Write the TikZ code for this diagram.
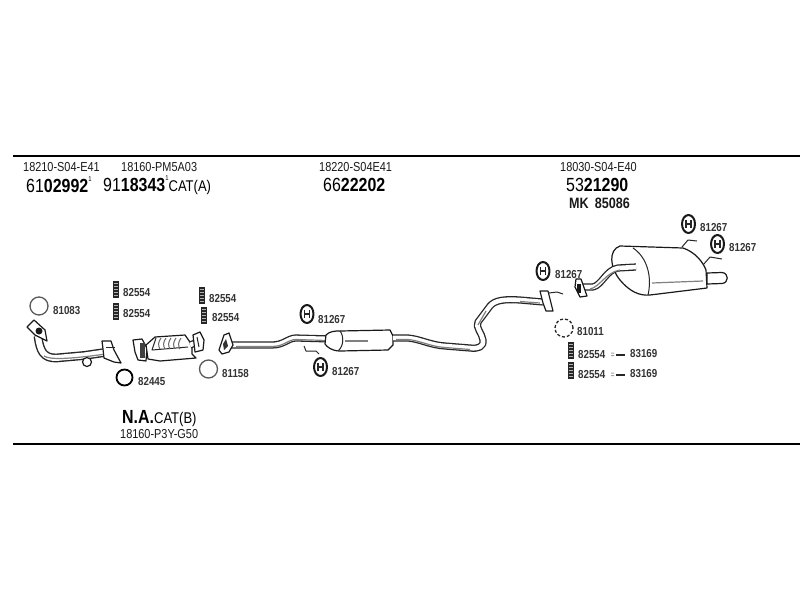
\documentclass[tikz,border=0pt]{standalone}
\usepackage{fontspec}
\usetikzlibrary{shapes.geometric}
\setmainfont[FakeStretch=0.84]{Liberation Sans}
\begin{document}
\begin{tikzpicture}[x=1pt,y=-1pt,line join=round,
  txt/.style={anchor=west,inner sep=0pt,font=\fontsize{13}{13}\selectfont,text=black!90},
  num/.style={anchor=west,inner sep=0pt,font=\fontsize{11.6}{12}\selectfont\bfseries,text=black!80},
  big/.style={anchor=west,inner sep=0pt,font=\fontsize{19}{19}\selectfont,text=black},
  part/.style={draw=black!90,line width=1.2pt,fill=white},
  thin part/.style={draw=black!85,line width=1pt},
  tube/.style={draw=black!85,double=white,double distance=4.6pt,line width=1.3pt},
  wide tube/.style={draw=black!85,double=white,double distance=6pt,line width=1.4pt},
  shade line/.style={draw=black!50,line width=1.2pt},
  ring/.style={circle,draw=black!65,line width=1.3pt,minimum size=18pt,inner sep=0pt},
  dark ring/.style={circle,draw=black,line width=1.8pt,minimum size=16pt,inner sep=0pt},
  rule/.style={draw=black,line width=2pt}]
\useasboundingbox (0,0) rectangle (800,600);
\fill[white] (0,0) rectangle (800,600);
% rules
\coordinate (r1a) at (13,155.5); \coordinate (r1b) at (800,155.5);
\coordinate (r2a) at (13,444); \coordinate (r2b) at (800,444);
\draw[rule] (r1a) -- (r1b);
\draw[rule] (r2a) -- (r2b);
% header
\node[txt] (h1) at (23,167) {18210-S04-E41};
\node[txt] (h2) at (121,167) {18160-PM5A03};
\node[txt] (h3) at (319,167) {18220-S04E41};
\node[txt] (h4) at (560,167) {18030-S04-E40};
\node[big] (n1) at (26,185) {61\textbf{02992}\raisebox{1.1ex}{\fontsize{7}{7}\selectfont 1}};
\node[big] (n2) at (103,185) {91\textbf{18343}\raisebox{1.1ex}{\fontsize{7}{7}\selectfont 1}\fontsize{15.5}{15}\selectfont CAT(A)};
\node[big] (n3) at (323,185) {66\textbf{22202}};
\node[big] (n4) at (566,185) {53\textbf{21290}};
\node[txt,font=\fontsize{15}{15}\selectfont\bfseries] (n5) at (569,203) {MK\, 85086};
\node[big] (na) at (122,419) {\textbf{N.A.}\fontsize{15.5}{15}\selectfont CAT(B)};
\node[txt] (nb) at (120,434) {18160-P3Y-G50};
% front pipe
\draw[wide tube] (38,336) .. controls (40,352) and (44,358) .. (56,358) -- (84,355.5) -- (108,352);
\draw[shade line] (44,356) .. controls (50,360) and (70,359) .. (106,354);
\draw[part] (27,327) -- (34,320) -- (45,330) -- (47,341) -- (35,335) -- cycle;
\fill[black!90] (39,331) circle (3.5);
\draw[part] (102,341) -- (111,341) -- (114,350) -- (121,363) -- (114,362) -- (104,358) -- (103,349) -- cycle;
\draw[thin part] (106,347) -- (115,347);
\draw[part] (87,362) circle (4.5);
% catalyst
\draw[part] (133,340) -- (142,339) -- (147,348) -- (146,361) -- (138,360) -- (135,352) -- cycle;
\fill[black!75] (140,343) rectangle (145,358);
\draw[part] (146,345) -- (155,337) -- (185,335) -- (192,345) -- (192,354) -- (196,358) -- (160,361) -- (148,359) -- cycle;
\draw[thin part] (156,338) -- (152,350) -- (188,347);
\foreach \i in {0,1,2,3,4}{\draw[black!60,line width=1pt] (161+5*\i,338) .. controls (158+5*\i,342) and (158+5*\i,346) .. (160+5*\i,349);}
\draw[tube] (190,345) -- (198,342);
\draw[part] (193,335) -- (200,332) -- (204,340) -- (203,350) -- (195,352) -- cycle;
\draw[thin part] (197,337) -- (199,347);
% middle pipe
\draw[tube] (228,345) -- (272,345) .. controls (284,345) and (288,338) .. (296,338) -- (332,339);
\draw[shade line] (236,346.5) -- (272,346.5) .. controls (284,346.5) and (288,339.5) .. (296,339.5) -- (326,340.5);
\draw[part] (219,350) -- (224,335) -- (229,333) -- (233,345) -- (229,352) -- (222,354) -- cycle;
\fill[black!80] (223,344) -- (226,339) -- (228,346) -- (224,350) -- cycle;
\draw[part] (326,335) .. controls (330,331) and (335,331) .. (340,331) -- (390,330) -- (393,336) -- (393,345) -- (388,350) -- (340,351) .. controls (332,351) and (327,347) .. (325,344) -- cycle;
\draw[thin part] (340,331) .. controls (344,336) and (344,346) .. (338,351);
\draw[shade line] (345,341) -- (368,341);
\draw[thin part] (304,346) -- (306,351) -- (316,351) -- (319,354);
% long pipe
\draw[tube] (393,338) -- (408,338) .. controls (420,339) and (430,345) .. (445,346) -- (470,348) .. controls (478,349) and (484,347) .. (483,340) .. controls (482,333) and (475,327) .. (478,322) -- (490,306) .. controls (495,300) and (505,299) .. (520,300) -- (543,302);
\draw[shade line] (396,339.5) -- (408,339.5) .. controls (420,340.5) and (430,346.5) .. (445,347.5) -- (470,349.5);
\draw[shade line] (486,311) -- (478,325);
\draw[shade line] (520,301.5) -- (540,303);
\draw[part] (540,291) -- (548,291) -- (553,311) -- (546,311) -- (543,303) -- cycle;
\draw[thin part] (549,293) -- (557,292) -- (563,294);
% rear muffler
\draw[part] (620,246) -- (683,248) .. controls (695,252) and (703,262) .. (706,270) -- (707,288) -- (650,295) .. controls (640,296) and (630,292) .. (620,280) .. controls (610,268) and (608,250) .. (620,246) -- cycle;
\draw[thin part] (633,248) .. controls (648,258) and (652,278) .. (648,295);
\draw[shade line] (652,283) -- (703,281);
\draw[tube] (578,287) -- (593,287) .. controls (602,285) and (606,270) .. (618,268) -- (636,267);
\draw[shade line] (590,289) .. controls (600,287) and (606,272) .. (620,270);
\draw[part] (576,279) -- (581,279) -- (587,296) -- (580,297) -- (575,287) -- cycle;
\fill[black!90] (577,284) rectangle (581,293);
\draw[part] (707,273) -- (722,272.5) .. controls (729,273) and (729,283) .. (722,283.5) -- (707,284) -- cycle;
\draw[thin part] (682,247) -- (688,240) -- (697,241);
\draw[thin part] (703,265) -- (710,257) -- (722,259);
% hanger rings
\foreach \n/\x/\y in {a/307/314,b/320.5/367,c/543/271,d/688.5/224,e/717.5/244}{
  \node[draw=black!90,line width=2pt,ellipse,minimum width=13pt,minimum height=18pt,inner sep=0pt] (\n) at (\x,\y) {};
  \draw[black!85,line width=1.2pt] (\x-2.5,\y-4) -- (\x-2.5,\y+4) (\x+2.5,\y-4) -- (\x+2.5,\y+4) (\x-2.5,\y) -- (\x+2.5,\y);
}
\node[num] (la) at (318,319) {81267};
\node[num] (lb) at (332,371) {81267};
\node[num] (lc) at (555,275) {81267};
\node[num] (ld) at (700,228) {81267};
\node[num] (le) at (729,248) {81267};
% clips
\foreach \n/\x/\y in {a/116/289,b/116/311,c/202/295,d/204/315,e/570.5/350,f/570.5/370}{
  \fill[black!85] (\x-3,\y-8.5) rectangle (\x+3,\y+8.5);
  \foreach \d in {-6,-3,0,3,6}{\draw[white!70!black,line width=0.7pt] (\x-2,\y+\d) -- (\x+2,\y+\d);}
}
\node[num] (ca) at (123,293) {82554};
\node[num] (cb) at (123,314) {82554};
\node[num] (cc) at (209,299) {82554};
\node[num] (cd) at (212,318) {82554};
\node[num] (ce) at (578,354) {82554};
\node[num] (cf) at (578,374) {82554};
\foreach \y in {354,374}{
  \fill[black!35] (611,\y-1.5) rectangle (614,\y-0.5) (611,\y+1) rectangle (614,\y+2);
  \fill[black!85] (616,\y-0.5) rectangle (625,\y+1.5);
}
\node[num] (da) at (630,354) {83169};
\node[num] (db) at (630,374) {83169};
% gaskets
\node[ring] (g1) at (39,306) {};
\node[num] (gl1) at (53,311) {81083};
\node[dark ring] (g2) at (124.5,377.5) {};
\node[num] (gl2) at (138,381) {82445};
\node[ring] (g3) at (208.5,369) {};
\node[num] (gl3) at (222,373) {81158};
\node[ring,densely dashed,draw=black!85] (g4) at (564,328) {};
\node[num] (gl4) at (577,332) {81011};
\end{tikzpicture}
\end{document}
